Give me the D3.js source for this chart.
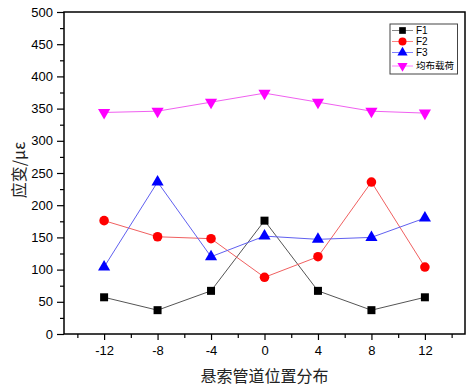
<!DOCTYPE html>
<html><head><meta charset="utf-8">
<script src="https://cdn.jsdelivr.net/npm/d3@7"></script>
<style>body{margin:0;background:#fff}svg{display:block}</style>
</head><body>
<script>
const positions = [-12, -8, -4, 0, 4, 8, 12];
const seriesNames = ["F1", "F2", "F3", "均布载荷"];
const f1 = [57, 37, 67, 176, 67, 37, 57];
const f2 = [176, 151, 148, 88, 120, 236, 104];
const f3 = [104, 236, 120, 152, 147, 150, 180];
const uniform = [344, 346, 360, 374, 360, 346, 343];
const xTicks = [-12, -8, -4, 0, 4, 8, 12];
const yTicks = [0, 50, 100, 150, 200, 250, 300, 350, 400, 450, 500];
const xTitle = "悬索管道位置分布";
const yTitle = "应变/με";

const W = 475, H = 392;
const L = 64, R = 465, T = 12, B = 334;
const svg = d3.select("body").append("svg").attr("width", W).attr("height", H);
const x = d3.scaleLinear().domain([-15, 15]).range([L, R]);
const y = d3.scaleLinear().domain([0, 500]).range([B, T]);

const styles = [
  {line: "#555", fill: "#000", sym: d3.symbolSquare, size: 64, rot: 0, lg: "#888"},
  {line: "#f06060", fill: "#ff0000", sym: d3.symbolCircle, size: 72, rot: 0, lg: "#ff8080"},
  {line: "#6060f0", fill: "#0000ff", sym: d3.symbolTriangle, size: 64, rot: 0, lg: "#8080ff"},
  {line: "#f060f0", fill: "#ff00ff", sym: d3.symbolTriangle, size: 64, rot: 180, lg: "#ff80ff"}
];
const data = [f1, f2, f3, uniform];

// frame
svg.append("rect").attr("x", L).attr("y", T).attr("width", R - L).attr("height", B - T)
  .attr("fill", "none").attr("stroke", "#000").attr("stroke-width", 1.5);

// x axis
const xa = svg.append("g").attr("transform", `translate(0,${B})`)
  .call(d3.axisBottom(x).tickValues(xTicks).tickSize(6).tickPadding(6).tickFormat(d => String(d)));
xa.select(".domain").remove();
xa.selectAll("text").attr("font-family", "Liberation Sans, Arial, sans-serif").attr("font-size", 13).attr("fill", "#000");
xa.selectAll("line").attr("stroke-width", 1.2);
const xm = svg.append("g").attr("transform", `translate(0,${B})`)
  .call(d3.axisBottom(x).tickValues(d3.range(-14, 15, 4)).tickSize(4).tickFormat(""));
xm.select(".domain").remove();
xm.selectAll("line").attr("stroke-width", 1.2);

// y axis
const ya = svg.append("g").attr("transform", `translate(${L},0)`)
  .call(d3.axisLeft(y).tickValues(yTicks).tickSize(7).tickPadding(4).tickFormat(d => String(d)));
ya.select(".domain").remove();
ya.selectAll("text").attr("font-family", "Liberation Sans, Arial, sans-serif").attr("font-size", 13).attr("fill", "#000");
ya.selectAll("line").attr("stroke-width", 1.2);
const ym = svg.append("g").attr("transform", `translate(${L},0)`)
  .call(d3.axisLeft(y).tickValues(d3.range(25, 500, 50)).tickSize(4).tickFormat(""));
ym.select(".domain").remove();
ym.selectAll("line").attr("stroke-width", 1.2);

// series
data.forEach((vals, i) => {
  const s = styles[i];
  const pts = positions.map((p, j) => [p, vals[j]]);
  svg.append("path").datum(pts)
    .attr("d", d3.line().x(d => x(d[0])).y(d => y(d[1])))
    .attr("fill", "none").attr("stroke", s.line).attr("stroke-width", 1);
  svg.selectAll(null).data(pts).enter().append("path")
    .attr("d", d3.symbol().type(s.sym).size(s.size))
    .attr("transform", d => `translate(${x(d[0])},${y(d[1])}) rotate(${s.rot})`)
    .attr("fill", s.fill);
});

// legend
const lg = svg.append("g");
lg.append("rect").attr("x", 390).attr("y", 24).attr("width", 67.5).attr("height", 50)
  .attr("fill", "#fff").attr("stroke", "#444").attr("stroke-width", 1);
const rowY = [30.5, 41.5, 52.5, 66];
seriesNames.forEach((n, i) => {
  const s = styles[i];
  const yy = rowY[i];
  lg.append("line").attr("x1", 392).attr("x2", 413).attr("y1", yy).attr("y2", yy)
    .attr("stroke", s.lg).attr("stroke-width", 1);
  lg.append("path").attr("d", d3.symbol().type(s.sym).size(s.size * 0.7))
    .attr("transform", `translate(402.5,${yy}) rotate(${s.rot})`).attr("fill", s.fill);
  lg.append("text").attr("x", 416).attr("y", yy).attr("dy", "0.35em").text(n)
    .attr("font-family", i === 3 ? "Noto Sans CJK SC" : "Liberation Sans, Arial, sans-serif")
    .attr("font-size", i === 3 ? 9.5 : 10).attr("fill", "#000");
});

// titles
svg.append("text").attr("x", (L + R) / 2).attr("y", 382).attr("text-anchor", "middle")
  .attr("font-family", "Noto Sans CJK SC").attr("font-size", 16).attr("fill", "#222").text(xTitle);
svg.append("text").attr("transform", "translate(25,170) rotate(-90)").attr("text-anchor", "middle")
  .attr("font-family", "Noto Sans CJK SC").attr("font-size", 16).attr("fill", "#222").text(yTitle);
</script>
</body></html>
